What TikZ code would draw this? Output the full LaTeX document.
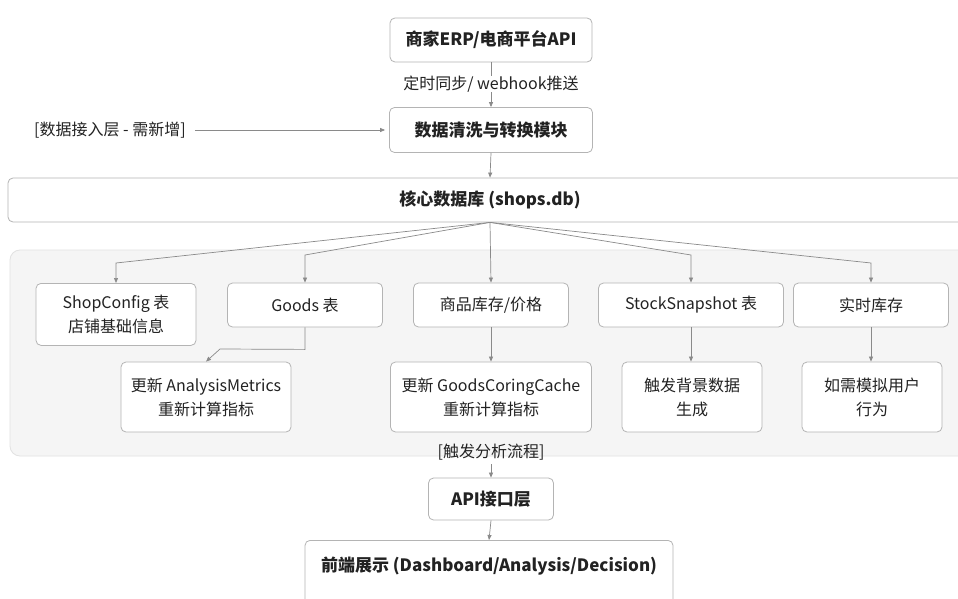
\documentclass[tikz,border=0pt]{standalone}
\usepackage{fontspec}
\setmainfont{Noto Sans CJK SC}
\usetikzlibrary{arrows.meta}
\definecolor{linegray}{HTML}{8A8A8A}
\definecolor{boxgray}{HTML}{B4B4B4}
\definecolor{grpfill}{HTML}{F5F5F5}
\definecolor{grpline}{HTML}{E2E2E2}
\definecolor{txt}{HTML}{222222}
\tikzset{
  box/.style={draw=boxgray, line width=0.8pt, rounded corners=5pt, fill=white, align=center, inner sep=0pt, text=txt, font=\fontsize{16}{24}\selectfont},
  boldbox/.style={box, font=\fontsize{17}{24}\selectfont\bfseries},
  plain/.style={text=txt, font=\fontsize{16}{24}\selectfont, inner sep=1pt},
  arr/.style={draw=linegray, line width=0.7pt, -{Triangle[length=5pt,width=4pt]}},
}
\begin{document}
\begin{tikzpicture}[x=1pt,y=-1pt]
\useasboundingbox[fill=white] (0,0) rectangle (958,599);
% group background
\draw[fill=grpfill, draw=grpline, line width=0.8pt, rounded corners=10pt] (10,250) rectangle (990,456);
% top
\node[boldbox, minimum width=202, minimum height=44] (erp) at (491,40) {商家ERP/电商平台API};
\node[boldbox, minimum width=203, minimum height=45] (clean) at (491,130) {数据清洗与转换模块};
\node[plain] (layer) at (110,130) {[数据接入层 - 需新增]};
\node[boldbox, minimum width=964, minimum height=44] (db) at (490,200) {核心数据库 (shops.db)};
\draw[arr] (erp.south) -- node[plain, fill=white, pos=0.48, inner sep=0pt] {定时同步/ webhook推送} (clean.north);
\draw[arr, shorten <=8pt, shorten >=4pt] (layer.east) -- (clean.west);
\draw[arr] (clean.south) -- (db.north);
% row 1
\node[box, minimum width=160, minimum height=62, anchor=north] (sc) at (116,283) {ShopConfig 表\\店铺基础信息};
\node[box, minimum width=155, minimum height=44] (goods) at (305,305) {Goods 表};
\node[box, minimum width=155, minimum height=44] (inv) at (491,305) {商品库存/价格};
\node[box, minimum width=185, minimum height=44] (stock) at (691,305) {StockSnapshot 表};
\node[box, minimum width=155, minimum height=44] (rt) at (871,305) {实时库存};
% row 2
\node[box, minimum width=170, minimum height=70] (am) at (206,397) {更新 AnalysisMetrics\\重新计算指标};
\node[box, minimum width=201, minimum height=70] (gcc) at (491,397) {更新 GoodsCoringCache\\重新计算指标};
\node[box, minimum width=140, minimum height=70] (bg) at (692,397) {触发背景数据\\生成};
\node[box, minimum width=140, minimum height=70] (sim) at (872,397) {如需模拟用户\\行为};
% fan
\coordinate (fan) at (db.south);
\draw[arr] (fan) -- (sc.north |- 0,263) -- (sc.north);
\draw[arr] (fan) -- (goods.north |- 0,255) -- (goods.north);
\draw[arr] (fan) -- (inv.north);
\draw[arr] (fan) -- (stock.north |- 0,255) -- (stock.north);
\draw[arr] (fan) -- (rt.north |- 0,263) -- (rt.north);
% row connections
\draw[arr] (goods.south) -- ++(0,22) -- (220,349) -- (am.north);
\draw[arr] (inv.south) -- (gcc.north);
\draw[arr] (stock.south) -- (stock.south |- bg.north);
\draw[arr] (rt.south) -- (rt.south |- sim.north);
% bottom
\node[plain] (trig) at (491,452) {[触发分析流程]};
\node[boldbox, minimum width=125, minimum height=42] (api) at (491,499) {API接口层};
\node[boldbox, minimum width=368, minimum height=70, anchor=north, text height=10pt, text depth=18pt] (fe) at (489,540) {前端展示 (Dashboard/Analysis/Decision)};
\draw[arr, shorten <=3pt] (trig.south) -- (api.north);
\draw[arr] (api.south) -- (fe.north);
\end{tikzpicture}
\end{document}
